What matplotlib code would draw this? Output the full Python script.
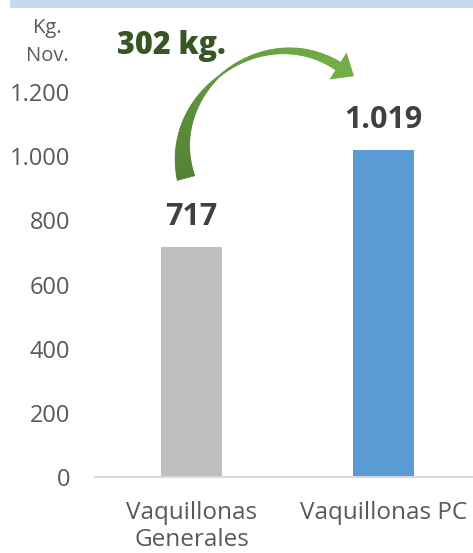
import numpy as np
import matplotlib.pyplot as plt
from matplotlib.patches import Rectangle, Polygon
from matplotlib.collections import PolyCollection
from matplotlib.colors import to_rgb

# Datos
categorias = ['Vaquillonas\nGenerales', 'Vaquillonas PC']
valores = [717, 1019]
etiquetas = ['717', '1.019']
colores = ['#BFBFBF', '#5B9BD5']
ticks_y = [0, 200, 400, 600, 800, 1000, 1200]
ticks_txt = ['0', '200', '400', '600', '800', '1.000', '1.200']
diferencia = '302 kg.'

plt.rcParams['font.family'] = ['Open Sans', 'DejaVu Sans']

W, H = 473, 553
fig = plt.figure(figsize=(W / 100, H / 100), dpi=100)

# Banda azul superior
fig.patches.append(Rectangle((10 / W, 1 - 8 / H), 1, 8 / H, transform=fig.transFigure,
                             facecolor='#C5D9F1', edgecolor='none'))

# Ejes: y=0 en px 477, 1250 en px 76
ax = fig.add_axes([95 / W, (H - 477) / H, (W - 95) / W, 401 / H])
x = range(len(categorias))
ax.bar(x, valores, width=0.32, color=colores)
ax.set_xlim(-0.503, 1.466)
ax.set_ylim(0, 1250)
ax.set_yticks(ticks_y)
ax.set_yticklabels(ticks_txt)
ax.set_xticks(list(x))
ax.set_xticklabels(categorias)
ax.tick_params(axis='y', length=0, pad=18, labelsize=17, labelcolor='#595959')
ax.tick_params(axis='x', length=0, pad=17, labelsize=17.5, labelcolor='#595959')
for lbl in ax.get_xticklabels():
    lbl.set_linespacing(1.2)
for s in ['top', 'right', 'left']:
    ax.spines[s].set_visible(False)
ax.spines['bottom'].set_color('#D9D9D9')
ax.spines['bottom'].set_linewidth(1.5)

# Etiquetas de valor
for i, v in enumerate(valores):
    ax.annotate(etiquetas[i], (i, v), xytext=(0, 11), textcoords='offset points',
                ha='center', va='bottom', fontsize=22, fontweight='bold', color='#404040')

# Titulo del eje y
fig.text(47 / W, 1 - 28 / H, 'Kg.', ha='center', va='center', fontsize=14.5, color='#595959')
fig.text(47 / W, 1 - 56 / H, 'Nov.', ha='center', va='center', fontsize=14.5, color='#595959')

# Texto de la diferencia
fig.text(117 / W, 1 - 46 / H, diferencia, ha='left', va='center', fontsize=22,
         fontweight='heavy', color='#375623')

# Flecha curva: cinta de ancho variable (coordenadas en pixeles, y hacia abajo)
P = np.array([[186, 178], [163, 92], [262, 18], [338, 66]], dtype=float)
t = np.linspace(0, 1, 80)[:, None]
curva = ((1 - t) ** 3) * P[0] + 3 * ((1 - t) ** 2) * t * P[1] + 3 * (1 - t) * t ** 2 * P[2] + t ** 3 * P[3]
deriv = 3 * ((1 - t) ** 2) * (P[1] - P[0]) + 6 * (1 - t) * t * (P[2] - P[1]) + 3 * t ** 2 * (P[3] - P[2])
tang = deriv / np.linalg.norm(deriv, axis=1, keepdims=True)
normal = np.column_stack([-tang[:, 1], tang[:, 0]])
ancho = np.interp(t[:, 0], [0, 0.47, 1], [18, 1.2, 9])
izq = curva + normal * ancho[:, None] / 2
der = curva - normal * ancho[:, None] / 2


def fig_xy(pts):
    pts = np.asarray(pts, dtype=float)
    return np.column_stack([pts[:, 0] / W, 1 - pts[:, 1] / H])


c0, c1 = np.array(to_rgb('#548235')), np.array(to_rgb('#72AE48'))
quads, cols = [], []
for k in range(len(t) - 1):
    quads.append(fig_xy([izq[k], izq[k + 1], der[k + 1], der[k]]))
    cols.append(c0 + (c1 - c0) * (k / (len(t) - 2)))
cinta = PolyCollection(quads, facecolors=cols, edgecolors=cols, linewidths=0.6,
                       transform=fig.transFigure)
fig.add_artist(cinta)

# Punta de la flecha
d = tang[-1]
n = np.array([-d[1], d[0]])
punta = [P[3] + n * 16, P[3] + d * 19, P[3] - n * 16]
fig.patches.append(Polygon(fig_xy(punta), closed=True, transform=fig.transFigure,
                           facecolor='#72AE48', edgecolor='none'))

fig.savefig('out.png', dpi=100)
